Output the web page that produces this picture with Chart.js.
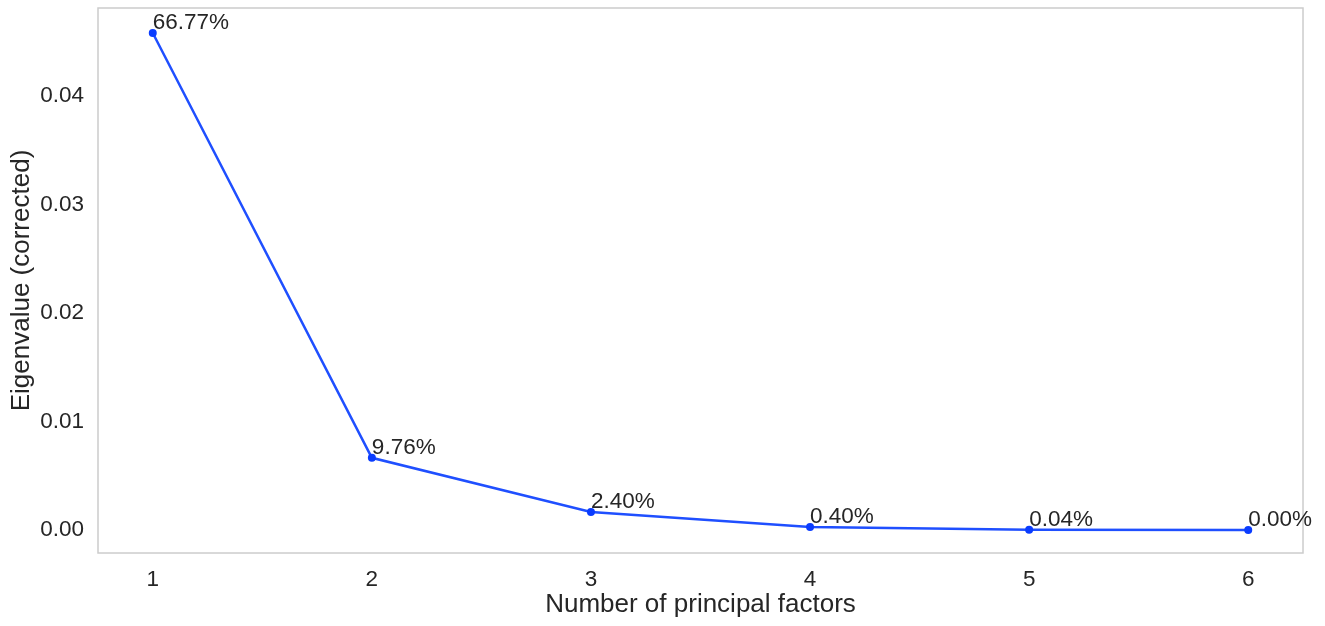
<!DOCTYPE html>
<html>
<head>
<meta charset="utf-8">
<script src="https://cdn.jsdelivr.net/npm/chart.js@4"></script>
<style>
  html, body { margin: 0; padding: 0; background: #fff; }
  #wrap { width: 1325px; height: 626px; }
</style>
</head>
<body>
<div id="wrap"><canvas id="scree"></canvas></div>
<script>
// data
const factors = [1, 2, 3, 4, 5, 6];
const eigenvalues = [0.0458, 0.00665, 0.00166, 0.00028, 0.00003, 0.0];
const pctLabels = ['66.77%', '9.76%', '2.40%', '0.40%', '0.04%', '0.00%'];
const yTicks = [0.00, 0.01, 0.02, 0.03, 0.04];

const textColor = '#262626';
const fontFamily = "'Liberation Sans', Arial, sans-serif";

// frame round the plot area + percentage labels next to each point
const framePlugin = {
    id: 'frame',
    afterDraw(chart) {
        const { ctx, chartArea: a } = chart;
        ctx.save();
        ctx.strokeStyle = '#cccccc';
        ctx.lineWidth = 1.5;
        ctx.strokeRect(a.left, a.top, a.right - a.left, a.bottom - a.top);

        const meta = chart.getDatasetMeta(0);
        ctx.fillStyle = textColor;
        ctx.font = '22.5px ' + fontFamily;
        ctx.textAlign = 'left';
        ctx.textBaseline = 'alphabetic';
        meta.data.forEach((pt, i) => {
            ctx.fillText(pctLabels[i], pt.x, pt.y - 4);
        });
        ctx.restore();
    }
};

const ctx = document.getElementById('scree').getContext('2d');
const scree = new Chart(ctx, {
    type: 'line',
    data: {
        datasets: [{
            data: factors.map((f, i) => ({ x: f, y: eigenvalues[i] })),
            borderColor: '#1f4fff',
            borderWidth: 2.5,
            pointRadius: 4,
            pointBackgroundColor: '#0a3cff',
            pointBorderWidth: 0,
            tension: 0,
        }]
    },
    options: {
        responsive: true,
        maintainAspectRatio: false,
        animation: false,
        layout: { padding: { top: 8, right: 22, left: 0, bottom: 0 } },
        plugins: {
            legend: { display: false },
            tooltip: { enabled: false },
        },
        scales: {
            x: {
                type: 'linear',
                min: 0.75,
                max: 6.25,
                grid: { display: false },
                border: { display: false },
                afterBuildTicks: (scale) => {
                    scale.ticks = factors.map(v => ({ value: v }));
                },
                afterFit: (scale) => {
                    scale.height = 73;
                    scale.paddingLeft = 0;
                    scale.paddingRight = 0;
                },
                ticks: {
                    color: textColor,
                    padding: 5,
                    font: { family: fontFamily, size: 22.5 },
                },
                title: {
                    display: true,
                    text: 'Number of principal factors',
                    color: textColor,
                    font: { family: fontFamily, size: 26 },
                    padding: { top: 2, bottom: 6 },
                }
            },
            y: {
                min: -0.00212,
                max: 0.0481,
                grid: { display: false },
                border: { display: false },
                afterBuildTicks: (scale) => {
                    scale.ticks = yTicks.map(v => ({ value: v }));
                },
                afterFit: (scale) => {
                    scale.width = 98;
                    scale.paddingTop = 0;
                    scale.paddingBottom = 0;
                },
                ticks: {
                    color: textColor,
                    padding: 6,
                    font: { family: fontFamily, size: 22.5 },
                    callback: (v) => v.toFixed(2),
                },
                title: {
                    display: true,
                    text: 'Eigenvalue (corrected)',
                    color: textColor,
                    font: { family: fontFamily, size: 26 },
                    padding: { top: 6, bottom: 4 },
                }
            }
        }
    },
    plugins: [framePlugin]
});
</script>
</body>
</html>
